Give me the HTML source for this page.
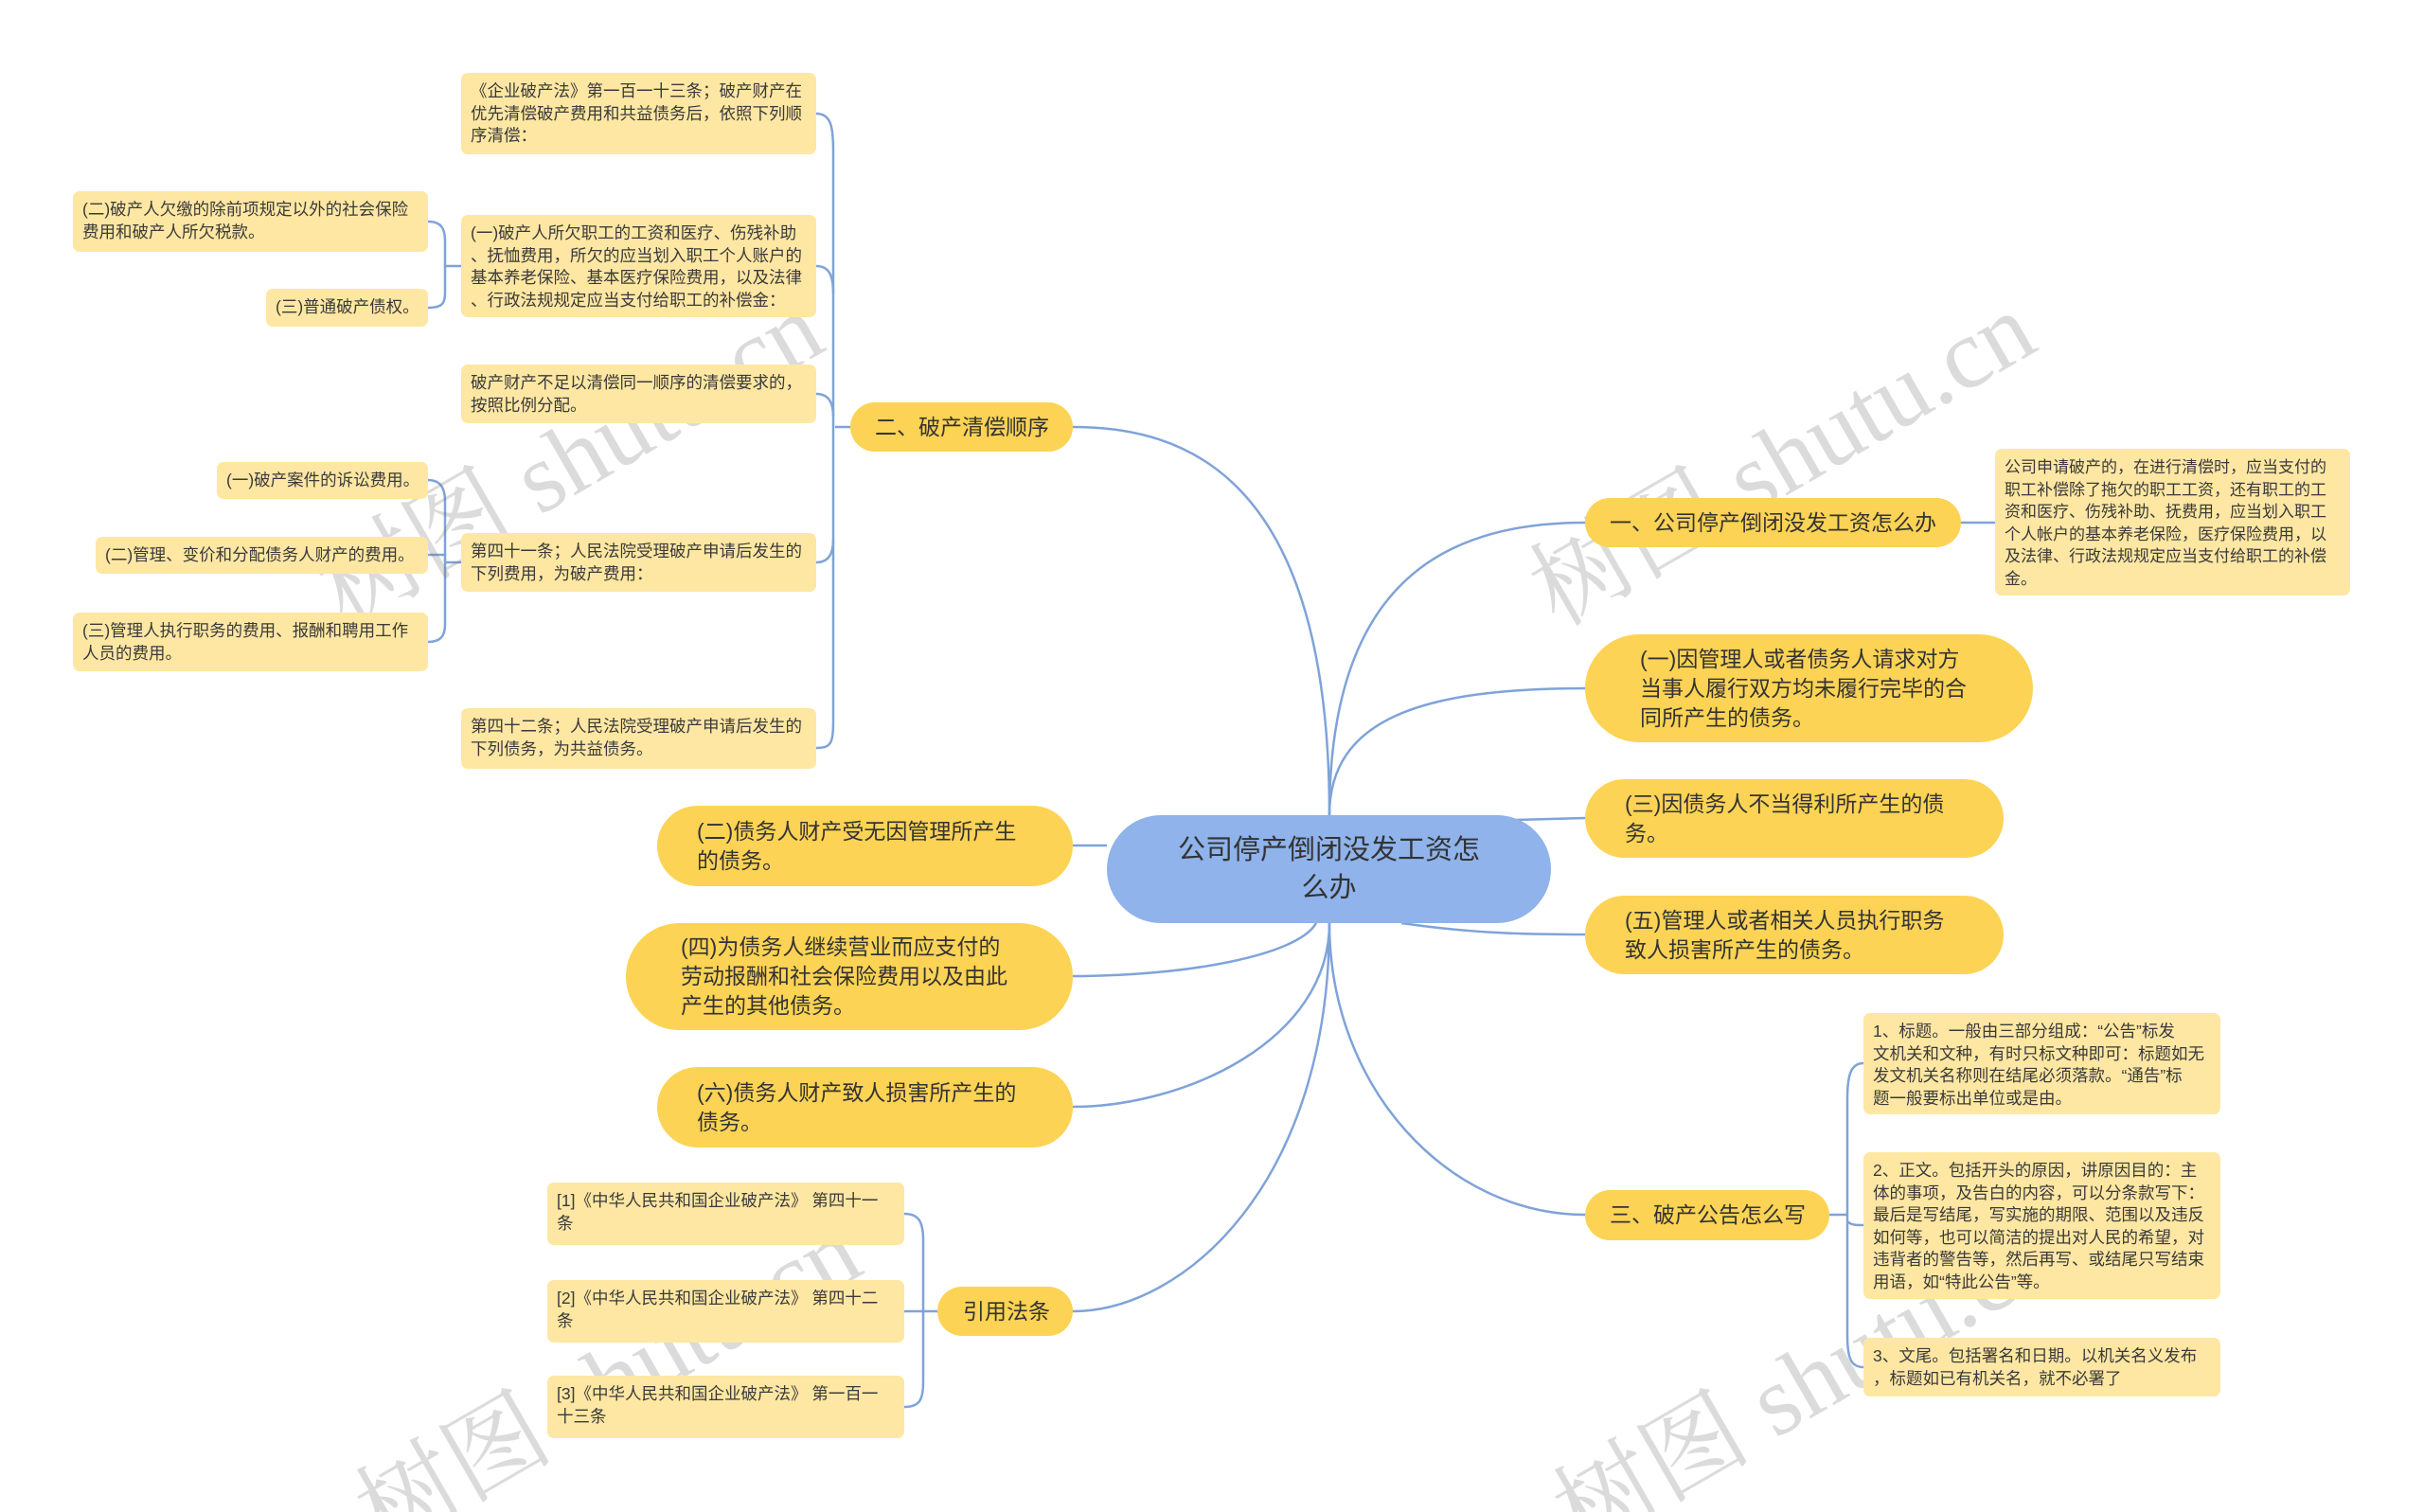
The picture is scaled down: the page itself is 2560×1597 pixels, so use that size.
<!DOCTYPE html>
<html><head><meta charset="utf-8"><style>
html,body{margin:0;padding:0;background:#fff;width:2560px;height:1597px;overflow:hidden;}
body{position:relative;font-family:"Liberation Sans","Noto Sans CJK SC",sans-serif;color:#333;}
.n{position:absolute;box-sizing:border-box;white-space:nowrap;}
.d{background:#fee7a3;border-radius:7px;font-size:17.5px;line-height:23.5px;padding:8px 10px;color:#3a3a3a;}
.p{background:#fcd354;border-radius:60px;font-size:23px;line-height:31px;color:#333;display:flex;align-items:center;}
.c{background:#8fb3ea;border-radius:60px;font-size:29px;line-height:40px;color:#333;display:flex;align-items:center;justify-content:center;text-align:center;}
.wmwrap{position:absolute;left:0;top:0;width:2560px;height:1597px;overflow:hidden;}
.wm{position:absolute;font-family:"Liberation Serif","Noto Serif CJK SC",serif;font-size:105px;line-height:110px;color:rgba(110,110,110,0.25);transform:rotate(-30deg);transform-origin:left top;white-space:nowrap;}
.wm.b{transform:translateY(160px) rotate(-30deg);}
svg{position:absolute;left:0;top:0;}
</style></head><body>
<svg width="2560" height="1597" fill="none" stroke="#7fa3d9" stroke-width="2.5">
<path d="M1404 861 C1404 500 1250 451 1133 451"/>
<path d="M1404 861 C1404 620 1520 552 1674 552"/>
<path d="M1404 861 C1404 760 1500 727 1674 727"/>
<path d="M1600 866 L1674 864"/>
<path d="M1480 975 C1550 985 1600 987 1674 987"/>
<path d="M1169 893 L1133 893"/>
<path d="M1390 975 C1370 1010 1250 1031 1133 1031"/>
<path d="M1404 975 C1404 1100 1250 1169 1133 1169"/>
<path d="M1404 975 C1404 1250 1250 1385 1133 1385"/>
<path d="M1404 975 C1404 1150 1530 1283 1674 1283"/>
<path d="M2071 552 L2107 552"/>
<path d="M898 451 L882 451"/>
<path d="M862 120 C878 120 880 135 880 160 L880 760 C880 785 878 790 862 790"/>
<path d="M862 281 C875 281 880 290 880 310"/>
<path d="M862 416 C875 416 880 425 880 440"/>
<path d="M862 594 C875 594 880 585 880 570"/>
<path d="M487 281 L470 281"/>
<path d="M452 234 C465 234 470 240 470 255 L470 310 C470 322 465 325 452 325"/>
<path d="M487 594 L470 594"/>
<path d="M452 507 C465 507 470 515 470 530 L470 660 C470 672 465 678 452 678"/>
<path d="M452 586 L470 586"/>
<path d="M990 1385 L975 1385"/>
<path d="M955 1282 C970 1282 975 1290 975 1310 L975 1460 C975 1480 970 1486 955 1486"/>
<path d="M955 1385 L975 1385"/>
<path d="M1932 1283 L1951 1283"/>
<path d="M1968 1123 C1955 1123 1951 1135 1951 1160 L1951 1410 C1951 1435 1955 1444 1968 1444"/>
<path d="M1951 1290 C1955 1294 1960 1294 1968 1294"/>
</svg>

<div class="wmwrap">
<div class="wm" style="left:320px;top:585px;">树图 shutu.cn</div>
<div class="wm" style="left:1600px;top:585px;">树图 shutu.cn</div>
<div class="wm b" style="left:360px;top:1400px;">树图 shutu.cn</div>
<div class="wm b" style="left:1625px;top:1400px;">树图 shutu.cn</div>
</div>

<div class="n c" style="left:1169px;top:861px;width:469px;height:114px;">公司停产倒闭没发工资怎<br>么办</div>

<div class="n p" style="left:1674px;top:526px;width:397px;height:52px;padding-left:26px;">一、公司停产倒闭没发工资怎么办</div>
<div class="n d" style="left:2107px;top:474px;width:375px;height:155px;font-size:17px;line-height:23.5px;">公司申请破产的，在进行清偿时，应当支付的<br>职工补偿除了拖欠的职工工资，还有职工的工<br>资和医疗、伤残补助、抚费用，应当划入职工<br>个人帐户的基本养老保险，医疗保险费用，以<br>及法律、行政法规规定应当支付给职工的补偿<br>金。</div>
<div class="n p" style="left:1674px;top:670px;width:473px;height:114px;padding-left:58px;">(一)因管理人或者债务人请求对方<br>当事人履行双方均未履行完毕的合<br>同所产生的债务。</div>
<div class="n p" style="left:1674px;top:823px;width:442px;height:83px;padding-left:42px;">(三)因债务人不当得利所产生的债<br>务。</div>
<div class="n p" style="left:1674px;top:946px;width:442px;height:83px;padding-left:42px;">(五)管理人或者相关人员执行职务<br>致人损害所产生的债务。</div>
<div class="n p" style="left:1674px;top:1257px;width:258px;height:53px;padding-left:26px;">三、破产公告怎么写</div>
<div class="n d" style="left:1968px;top:1070px;width:377px;height:107px;">1、标题。一般由三部分组成：“公告”标发<br>文机关和文种，有时只标文种即可：标题如无<br>发文机关名称则在结尾必须落款。“通告”标<br>题一般要标出单位或是由。</div>
<div class="n d" style="left:1968px;top:1217px;width:377px;height:155px;">2、正文。包括开头的原因，讲原因目的：主<br>体的事项，及告白的内容，可以分条款写下：<br>最后是写结尾，写实施的期限、范围以及违反<br>如何等，也可以简洁的提出对人民的希望，对<br>违背者的警告等，然后再写、或结尾只写结束<br>用语，如“特此公告”等。</div>
<div class="n d" style="left:1968px;top:1413px;width:377px;height:62px;">3、文尾。包括署名和日期。以机关名义发布<br>，标题如已有机关名，就不必署了</div>

<div class="n p" style="left:898px;top:425px;width:235px;height:52px;padding-left:26px;">二、破产清偿顺序</div>
<div class="n d" style="left:487px;top:77px;width:375px;height:86px;">《企业破产法》第一百一十三条；破产财产在<br>优先清偿破产费用和共益债务后，依照下列顺<br>序清偿：</div>
<div class="n d" style="left:487px;top:227px;width:375px;height:108px;">(一)破产人所欠职工的工资和医疗、伤残补助<br>、抚恤费用，所欠的应当划入职工个人账户的<br>基本养老保险、基本医疗保险费用，以及法律<br>、行政法规规定应当支付给职工的补偿金：</div>
<div class="n d" style="left:487px;top:385px;width:375px;height:62px;">破产财产不足以清偿同一顺序的清偿要求的，<br>按照比例分配。</div>
<div class="n d" style="left:487px;top:563px;width:375px;height:62px;">第四十一条；人民法院受理破产申请后发生的<br>下列费用，为破产费用：</div>
<div class="n d" style="left:487px;top:748px;width:375px;height:64px;">第四十二条；人民法院受理破产申请后发生的<br>下列债务，为共益债务。</div>
<div class="n d" style="left:77px;top:202px;width:375px;height:64px;">(二)破产人欠缴的除前项规定以外的社会保险<br>费用和破产人所欠税款。</div>
<div class="n d" style="left:281px;top:305px;width:171px;height:40px;">(三)普通破产债权。</div>
<div class="n d" style="left:229px;top:488px;width:223px;height:39px;">(一)破产案件的诉讼费用。</div>
<div class="n d" style="left:101px;top:567px;width:351px;height:39px;">(二)管理、变价和分配债务人财产的费用。</div>
<div class="n d" style="left:77px;top:647px;width:375px;height:62px;">(三)管理人执行职务的费用、报酬和聘用工作<br>人员的费用。</div>

<div class="n p" style="left:694px;top:851px;width:439px;height:85px;padding-left:42px;">(二)债务人财产受无因管理所产生<br>的债务。</div>
<div class="n p" style="left:661px;top:975px;width:472px;height:113px;padding-left:58px;">(四)为债务人继续营业而应支付的<br>劳动报酬和社会保险费用以及由此<br>产生的其他债务。</div>
<div class="n p" style="left:694px;top:1127px;width:439px;height:85px;padding-left:42px;">(六)债务人财产致人损害所产生的<br>债务。</div>
<div class="n p" style="left:990px;top:1359px;width:143px;height:52px;padding-left:27px;">引用法条</div>
<div class="n d" style="left:578px;top:1249px;width:377px;height:66px;">[1]《中华人民共和国企业破产法》 第四十一<br>条</div>
<div class="n d" style="left:578px;top:1352px;width:377px;height:66px;">[2]《中华人民共和国企业破产法》 第四十二<br>条</div>
<div class="n d" style="left:578px;top:1453px;width:377px;height:66px;">[3]《中华人民共和国企业破产法》 第一百一<br>十三条</div>
</body></html>
